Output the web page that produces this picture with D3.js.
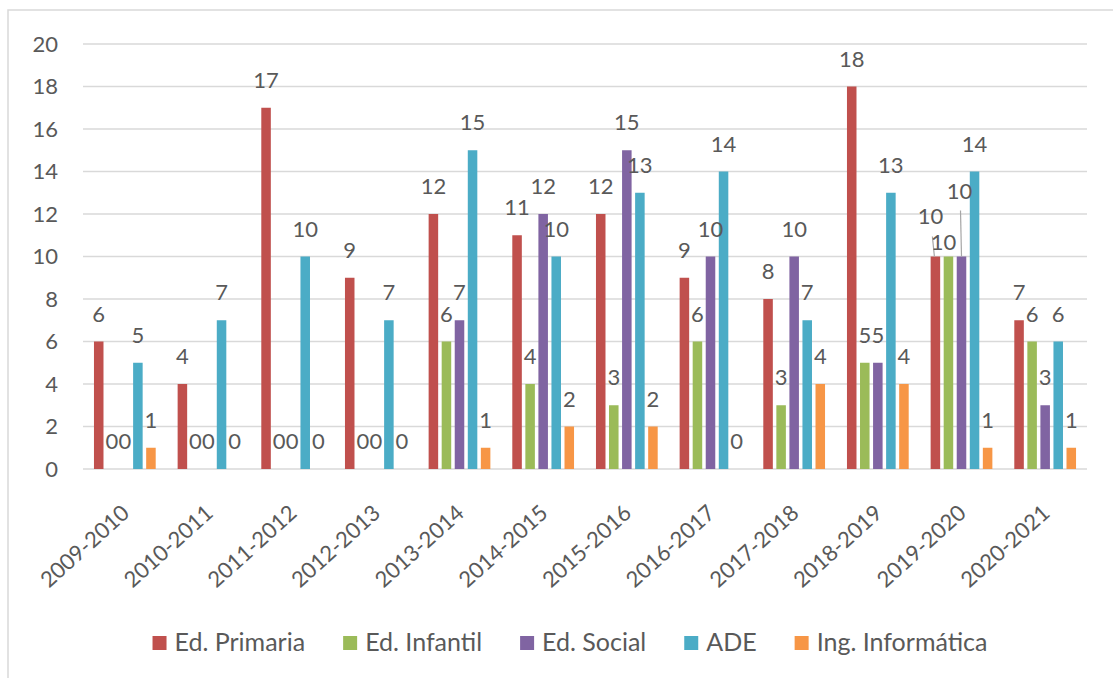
<!DOCTYPE html>
<html>
<head>
<meta charset="utf-8">
<script src="https://cdn.jsdelivr.net/npm/d3@7"></script>
<style>
  html, body { margin: 0; padding: 0; background: #ffffff; }
  svg { display: block; }
  text { font-family: Lato, "Open Sans", sans-serif; fill: #595959; }
</style>
</head>
<body>
<script>
// ---- data ----
const categories = ["2009-2010","2010-2011","2011-2012","2012-2013","2013-2014","2014-2015",
                    "2015-2016","2016-2017","2017-2018","2018-2019","2019-2020","2020-2021"];
const seriesNames = ["Ed. Primaria","Ed. Infantil","Ed. Social","ADE","Ing. Informática"];
const edPrimaria   = [6, 4, 17, 9, 12, 11, 12, 9, 8, 18, 10, 7];
const edInfantil   = [0, 0, 0, 0, 6, 4, 3, 6, 3, 5, 10, 6];
const edSocial     = [0, 0, 0, 0, 7, 12, 15, 10, 10, 5, 10, 3];
const ade          = [5, 7, 10, 7, 15, 10, 13, 14, 7, 13, 14, 6];
const ingInformatica = [1, 0, 0, 0, 1, 2, 2, 0, 4, 4, 1, 1];
const yTicks = [0, 2, 4, 6, 8, 10, 12, 14, 16, 18, 20];

const seriesValues = [edPrimaria, edInfantil, edSocial, ade, ingInformatica];
const colors = ["#C0504D", "#9BBB59", "#8064A2", "#4BACC6", "#F79646"];

// ---- layout ----
const W = 1113, H = 678;
const plot = { left: 83, right: 1087, top: 44, bottom: 469 };
const numSize = 22, xLabSize = 22, legSize = 25;

const svg = d3.select("body").append("svg").attr("width", W).attr("height", H);

// outer frame
svg.append("rect").attr("x", 8).attr("y", 10).attr("width", 1300).attr("height", 900)
  .attr("fill", "none").attr("stroke", "#d9d9d9").attr("stroke-width", 1.5);

const x0 = d3.scaleBand().domain(categories).range([plot.left, plot.right])
  .paddingInner(0.22).paddingOuter(0.11);
const x1 = d3.scaleBand().domain(seriesNames).range([0, x0.bandwidth()])
  .paddingInner(0.27).paddingOuter(0.135);
const y = d3.scaleLinear().domain([0, 20]).range([plot.bottom, plot.top]);

// gridlines
svg.append("g").selectAll("line").data(yTicks).join("line")
  .attr("x1", plot.left).attr("x2", plot.right)
  .attr("y1", d => y(d)).attr("y2", d => y(d))
  .attr("stroke", "#d9d9d9").attr("stroke-width", 1.6);

// y axis labels via d3 axis
const yAxis = svg.append("g").attr("transform", `translate(${plot.left},0)`)
  .call(d3.axisLeft(y).tickValues(yTicks).tickSize(0).tickPadding(25));
yAxis.select(".domain").remove();
yAxis.selectAll("text").style("font-size", numSize + "px").style("font-family", "Lato, sans-serif")
  .attr("fill", "#595959");

// x axis labels
const xAxis = svg.append("g").attr("transform", `translate(0,${plot.bottom})`)
  .call(d3.axisBottom(x0).tickSize(0).tickFormat(d => d));
xAxis.select(".domain").remove();
xAxis.selectAll("text")
  .style("font-size", xLabSize + "px").style("font-family", "Lato, sans-serif")
  .attr("fill", "#595959")
  .attr("text-anchor", "end")
  .attr("dy", 0).attr("y", 0)
  .attr("transform", "translate(6,46) rotate(-42)");

// rows
const rows = [];
seriesNames.forEach((s, si) => {
  categories.forEach((c, ci) => {
    rows.push({ series: s, si, cat: c, ci, value: seriesValues[si][ci] });
  });
});

// bars
svg.append("g").selectAll("rect").data(rows).join("rect")
  .attr("x", d => x0(d.cat) + x1(d.series))
  .attr("y", d => y(d.value))
  .attr("width", x1.bandwidth())
  .attr("height", d => y(0) - y(d.value))
  .attr("fill", d => colors[d.si]);

// label adjustments (Excel-like collision moves) for 2019-2020
const labelShift = {
  "2019-2020|Ed. Primaria": { dx: -5, dy: -13, leader: true },
  "2019-2020|Ed. Infantil": { dx: -5, dy: 13 },
  "2019-2020|Ed. Social":   { dx: -2, dy: -38, leader: true }
};

const labelG = svg.append("g");
rows.forEach(d => {
  const cx = x0(d.cat) + x1(d.series) + x1.bandwidth() / 2;
  const by = y(d.value);
  const adj = labelShift[d.cat + "|" + d.series] || { dx: 0, dy: 0 };
  const lx = cx + adj.dx, ly = by - 20 + adj.dy;
  if (adj.leader) {
    if (d.series === "Ed. Primaria") {
      labelG.append("line").attr("x1", lx + 2).attr("y1", ly + 13)
        .attr("x2", cx - 1).attr("y2", by).attr("stroke", "#a6a6a6").attr("stroke-width", 1.2);
    } else {
      labelG.append("line").attr("x1", lx + 1).attr("y1", ly + 12)
        .attr("x2", cx).attr("y2", by).attr("stroke", "#a6a6a6").attr("stroke-width", 1.2);
    }
  }
  labelG.append("text").attr("x", lx).attr("y", ly)
    .attr("text-anchor", "middle").style("font-size", numSize + "px")
    .text(d.value);
});

// legend
const legend = svg.append("g");
const items = legend.selectAll("g").data(seriesNames).join("g");
items.append("rect").attr("width", 14).attr("height", 14).attr("y", -15)
  .attr("fill", (d, i) => colors[i]);
items.append("text").attr("x", 22).attr("y", 0).style("font-size", legSize + "px").text(d => d);
const gap = 38;
let cursor = 0;
items.each(function() {
  const w = this.querySelector("text").getComputedTextLength();
  this.__x = cursor;
  cursor += 22 + w + gap;
});
const totalW = cursor - gap;
const startX = 570 - totalW / 2;
items.attr("transform", function() { return `translate(${startX + this.__x},651)`; });
</script>
</body>
</html>
